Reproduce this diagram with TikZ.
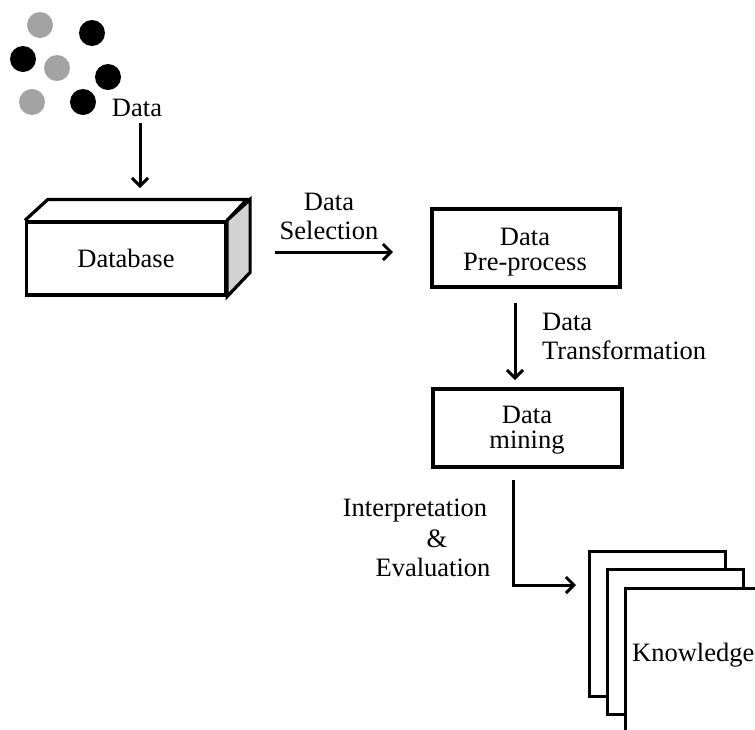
\documentclass[tikz,border=0pt]{standalone}
\usepackage{fontspec}
\setmainfont{Liberation Serif}
\usetikzlibrary{arrows.meta}
\definecolor{dotgray}{HTML}{A3A3A3}
\definecolor{sidegray}{HTML}{D2D2D2}
\begin{document}
\begin{tikzpicture}[x=1pt,y=-1pt,
  every node/.style={font=\fontsize{26.5}{30}\selectfont},
  dot/.style={circle,minimum size=26pt,inner sep=0pt},
  gdot/.style={dot,fill=dotgray},
  bdot/.style={dot,fill=black},
  proc/.style={draw,line width=3.2pt,align=center,inner sep=0pt},
  lbl/.style={align=center,inner sep=0pt},
  arr/.style={line width=3pt,-{Straight Barb[length=8pt,width=16pt,line width=3pt]}},
  edge3d/.style={line width=3.2pt,line join=miter},
  page/.style={draw,fill=white,line width=3.2pt,minimum width=136pt,minimum height=145pt,anchor=north west,inner sep=0pt,line join=miter}]
\useasboundingbox (0,0) rectangle (755,729);
\clip (0,0) rectangle (755,729);
% data dots
\node[gdot] (g1) at (40,25) {};
\node[bdot] (b1) at (92,33) {};
\node[bdot] (b2) at (23,59) {};
\node[gdot] (g2) at (57,68) {};
\node[bdot] (b3) at (108,77) {};
\node[gdot] (g3) at (32,102) {};
\node[bdot] (b4) at (83,102) {};
\node[lbl] (datalbl) at (137,108) {Data};
% database
\node[proc,minimum width=199pt,minimum height=73pt] (db) at (126,258.5) {Database};
\draw[edge3d] (db.north west) -- ++(23,-21) -- ++(199,0) -- (db.north east);
\draw[edge3d,fill=sidegray] (db.north east) -- ++(23,-21) -- ++(0,73) -- (db.south east) -- cycle;
\coordinate (a1s) at (140,123);
\coordinate (a1e) at (140,188);
\draw[arr] (a1s) -- (a1e);
% data selection
\coordinate (a2s) at (275,252);
\coordinate (a2e) at (393,252);
\draw[arr] (a2s) -- (a2e);
\node[lbl] (sel1) at (329,202) {Data};
\node[lbl] (sel2) at (329,230) {Selection};
% pre-process
\node[proc,minimum width=188pt,minimum height=78pt] (pre) at (526,248) {};
\node[lbl] (pre1) at (525,237) {Data};
\node[lbl] (pre2) at (525,265) {Pre-process};
\coordinate (a3s) at (515,303);
\coordinate (a3e) at (515,380);
\draw[arr] (a3s) -- (a3e);
\node[lbl,anchor=west] (tr1) at (542,322) {Data};
\node[lbl,anchor=west] (tr2) at (542,350) {Transformation};
% data mining
\node[proc,minimum width=189pt,minimum height=78pt] (dm) at (527.5,428) {};
\node[lbl] (dm1) at (527,415) {Data};
\node[lbl] (dm2) at (527,443) {mining};
% interpretation
\coordinate (a4s) at (513,480);
\coordinate (a4c) at (513,585);
\coordinate (a4e) at (576,585);
\draw[arr,line join=miter] (a4s) -- (a4c) -- (a4e);
\node[lbl] (ie1) at (415,511) {Interpretation};
\node[lbl] (ie2) at (437,539) {\&};
\node[lbl] (ie3) at (433,567) {Evaluation};
% knowledge pages
\node[page] (k1) at (588,550) {};
\node[page] (k2) at (606,568) {};
\node[page,minimum height=160pt,minimum width=160pt] (k3) at (624,587) {};
\node[lbl,anchor=west] (kl) at (632,655) {Knowledge};
\end{tikzpicture}
\end{document}
